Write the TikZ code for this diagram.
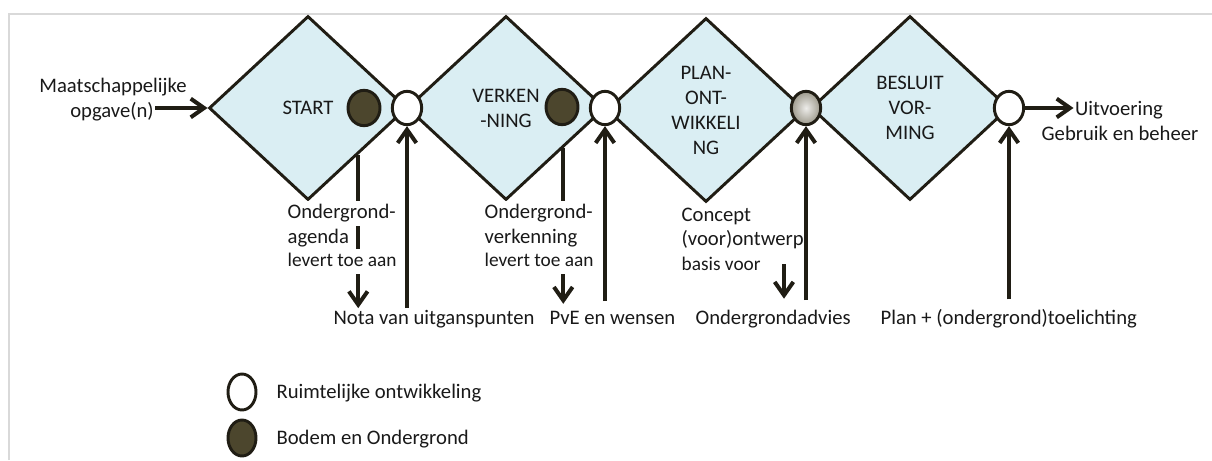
\documentclass[tikz,border=0pt]{standalone}
\usepackage{fontspec}
\setmainfont{Carlito}
\usetikzlibrary{shapes.geometric,arrows.meta,calc}
\definecolor{faseblauw}{RGB}{218,238,243}
\definecolor{lijn}{RGB}{32,29,20}
\definecolor{bodemkleur}{RGB}{76,70,45}
\definecolor{kader}{RGB}{217,217,217}
\definecolor{tekst}{RGB}{25,25,25}
\newcommand{\hoofd}{\fontsize{15.5}{18.75}\selectfont}
\newcommand{\klein}{\fontsize{14.5}{17}\selectfont}

\begin{document}
\begin{tikzpicture}[x=0.75pt,y=-0.75pt,
    fase/.style={diamond, draw=lijn, line width=2.2pt, fill=faseblauw, minimum width=148.5pt,
      minimum height=138pt, inner sep=0pt, align=center, font=\hoofd, text=tekst},
    ruimte/.style={ellipse, draw=lijn, line width=2.2pt, fill=white, minimum width=22pt,
      minimum height=25pt, inner sep=0pt},
    bodem/.style={ruimte, fill=bodemkleur, minimum width=24pt, minimum height=26.5pt},
    pijl/.style={draw=lijn, line width=3pt, -{Straight Barb[length=10pt,width=14pt]}},
    lbl/.style={font=\hoofd, text=tekst, inner sep=1pt},
    masker/.style={lbl, fill=white, anchor=base west, inner ysep=0pt, text height=12.5pt, text depth=6pt}]
    \useasboundingbox (0,0) rectangle (1212,460);

    % Frame
    \draw[kader, line width=1.5pt] (9,460) -- (9,14) -- (1212,14);

    % Phases
    \node[fase] (d1) at (308,108) {START};
    \node[fase] (d2) at (506,108) {VERKEN\\-NING};
    \node[fase] (d3) at (706,110) {PLAN-\\ONT-\\WIKKELI\\NG};
    \node[fase] (d4) at (910,108) {BESLUIT\\VOR-\\MING};

    % Milestones
    \node[ruimte] (ro1) at (407,108) {};
    \node[ruimte] (ro2) at (605,108) {};
    \node[ruimte, inner color=white!90!bodemkleur, outer color=white!45!bodemkleur] (ro3) at (806,108) {};
    \node[ruimte] (ro4) at (1009,108) {};
    \node[bodem] (bo1) at (364,108) {};
    \node[bodem] (bo2) at (562,107) {};

    % In and out
    \node[lbl, anchor=base] (maat) at (113,93) {Maatschappelijke};
    \node[lbl, anchor=base] (opgave) at (112,117) {opgave(n)};
    \draw[pijl] (opgave.east |- d1.west) -- (d1.west);
    \node[lbl, anchor=base] (uitv) at (1119,115) {Uitvoering};
    \node[lbl, anchor=base] (gebr) at (1120,140) {Gebruik en beheer};
    \draw[pijl] (ro4.east) -- (uitv.west |- ro4.east);

    % Products
    \node[lbl, anchor=base west] (nota) at (332,324) {Nota van uitganspunten};
    \node[lbl, anchor=base west] (pve) at (548,324) {PvE en wensen};
    \node[lbl, anchor=base west] (advies) at (694,324) {Ondergrondadvies};
    \node[lbl, anchor=base west] (plan) at (879,324) {Plan + (ondergrond)toelichting};

    \draw[pijl] (nota.north -| ro1) -- (ro1.south);
    \draw[pijl, shorten <=6pt] (pve.north -| ro2) -- (ro2.south);
    \draw[pijl, shorten <=6pt] (advies.north -| ro3) -- (ro3.south);
    \draw[pijl, shorten <=6pt] (plan.north -| ro4) -- (ro4.south);

    % Subsurface contributions
    \coordinate (k1) at ($(d1.east)!0.5!(d1.south)$);
    \coordinate (k2) at ($(d2.east)!0.43!(d2.south)$);
    \coordinate (k3) at (784,264);
    \draw[pijl] (k1) -- (k1 |- nota.north);
    \draw[pijl, shorten >=4pt] (k2) -- (k2 |- pve.north);
    \draw[pijl, shorten >=7pt] (k3) -- (k3 |- advies.north);

    \node[masker] (og1) at (286,218) {Ondergrond-};
    \node[masker] (og2) at (286,243) {agenda};
    \node[masker, font=\klein] (og3) at (286,266) {levert toe aan};
    \node[masker] (ov1) at (483,218) {Ondergrond-};
    \node[masker] (ov2) at (483,243) {verkenning};
    \node[masker, font=\klein] (ov3) at (483,266) {levert toe aan};
    \node[lbl, anchor=base west] (co1) at (680,221) {Concept};
    \node[lbl, anchor=base west] (co2) at (680,245) {(voor)ontwerp};
    \node[lbl, anchor=base west, font=\klein] (co3) at (680,270) {basis voor};

    % Legend
    \node[ruimte, minimum width=21pt, minimum height=27pt] (leg1) at (242,392) {};
    \node[bodem, minimum width=21pt, minimum height=27pt] (leg2) at (242,438) {};
    \node[lbl, anchor=west] (leg1t) at (275,393) {Ruimtelijke ontwikkeling};
    \node[lbl, anchor=west] (leg2t) at (275,439) {Bodem en Ondergrond};
\end{tikzpicture}
\end{document}
